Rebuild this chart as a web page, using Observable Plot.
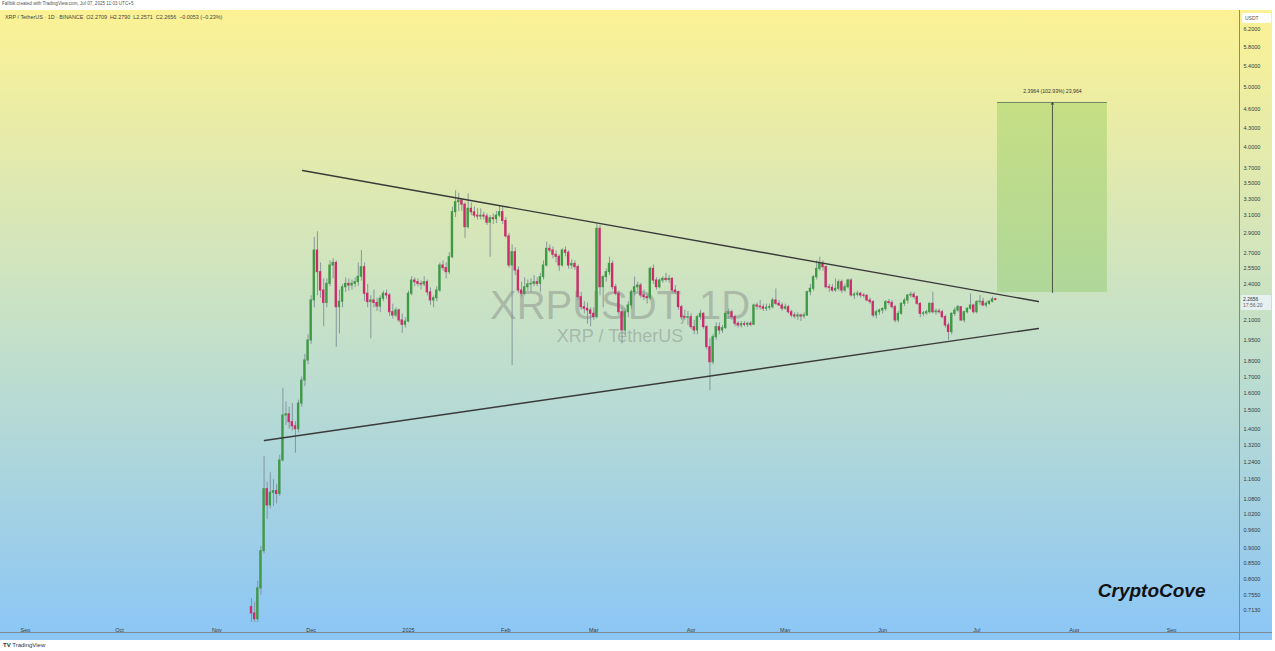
<!DOCTYPE html>
<html><head><meta charset="utf-8">
<script src="https://cdn.jsdelivr.net/npm/d3@7"></script>
<script src="https://cdn.jsdelivr.net/npm/@observablehq/plot@0.6"></script>
<style>
body{margin:0;width:1275px;height:651px;background:#fff;position:relative;overflow:hidden;font-family:"Liberation Sans",Arial,sans-serif}
#hdr{position:absolute;left:2px;top:1px;font-size:4.6px;color:#555;white-space:nowrap}
#panel{position:absolute;left:0;top:10px;width:1272px;height:630px;background:linear-gradient(to bottom,#fcf294 0%,#c6e1c8 50%,#8bc6f6 100%)}
#legend{position:absolute;left:5px;top:14px;font-size:5.4px;color:#444;white-space:nowrap}
#usdt{position:absolute;left:1242px;top:13px;width:26px;height:10px;background:#fff;border-radius:2px;font-size:5px;color:#555;line-height:10px;padding-left:3px}
#price{position:absolute;left:1241px;top:295px;width:28px;height:14px;background:rgba(235,242,248,0.85);font-size:5px;color:#333;line-height:6px;padding-left:2px;padding-top:1px}
#vline{position:absolute;left:1239px;top:10px;width:1px;height:630px;background:#7d8a96}
#hline{position:absolute;left:0;top:632px;width:1272px;height:1px;background:#7d8a96}
#foot{position:absolute;left:3px;top:642px;font-size:6px;color:#333;white-space:nowrap}
#chart{position:absolute;left:0;top:10px}
</style></head>
<body>
<div id="hdr">Fallbik created with TradingView.com, Jul 07, 2025 11:03 UTC+5</div>
<div id="panel"></div>
<div id="chart"></div>
<div id="legend">XRP / TetherUS · 1D · BINANCE &nbsp;O2.2709 &nbsp;H2.2790 &nbsp;L2.2571 &nbsp;C2.2656 &nbsp;−0.0053 (−0.23%)</div>
<div id="vline"></div>
<div id="hline"></div>
<div id="usdt">USDT</div>
<div id="price">2.2656<br><span style="color:#666">17:56:20</span></div>
<div id="foot"><b>TV</b> TradingView</div>
<script>
// Daily candles [open, high, low, close], starting 2024-11-12
const nov24 = [[0.722,0.745,0.665,0.705],[0.705,0.735,0.662,0.690],[0.690,0.795,0.670,0.774],[0.774,0.905,0.755,0.889],[0.889,1.265,0.880,1.120],[1.120,1.150,1.000,1.054],[1.054,1.190,1.040,1.105],[1.105,1.160,1.050,1.112],[1.112,1.140,1.060,1.100],[1.100,1.270,1.090,1.246],[1.246,1.630,1.240,1.473],[1.473,1.550,1.420,1.480],[1.480,1.520,1.400,1.437],[1.437,1.540,1.390,1.415],[1.415,1.440,1.280,1.400],[1.400,1.560,1.380,1.540],[1.540,1.700,1.520,1.678],[1.678,1.850,1.640,1.808],[1.808,1.990,1.780,1.948]];
const dec24 = [[1.948,2.300,1.920,2.261],[2.261,2.860,2.200,2.723],[2.723,2.920,2.300,2.512],[2.512,2.600,2.280,2.346],[2.346,2.450,2.050,2.240],[2.240,2.450,2.200,2.405],[2.405,2.620,2.380,2.575],[2.575,2.640,2.450,2.600],[2.600,2.620,1.900,2.205],[2.205,2.350,1.997,2.250],[2.250,2.400,2.200,2.375],[2.375,2.460,2.330,2.405],[2.405,2.450,2.340,2.390],[2.390,2.440,2.350,2.405],[2.405,2.460,2.370,2.420],[2.420,2.600,2.380,2.470],[2.470,2.723,2.430,2.559],[2.559,2.600,2.250,2.318],[2.318,2.400,2.200,2.247],[2.247,2.300,1.960,2.261],[2.261,2.350,2.200,2.240],[2.240,2.280,2.170,2.210],[2.210,2.300,2.160,2.275],[2.275,2.340,2.250,2.318],[2.318,2.350,2.270,2.303],[2.303,2.320,2.130,2.164],[2.164,2.230,2.110,2.138],[2.138,2.200,2.120,2.178],[2.178,2.190,2.080,2.099],[2.099,2.150,2.000,2.065],[2.065,2.120,2.040,2.090]];
const jan25 = [[2.090,2.340,2.080,2.318],[2.318,2.470,2.300,2.435],[2.435,2.460,2.380,2.420],[2.420,2.450,2.380,2.405],[2.405,2.430,2.350,2.400],[2.400,2.470,2.380,2.420],[2.420,2.440,2.300,2.330],[2.330,2.370,2.220,2.261],[2.261,2.300,2.200,2.280],[2.280,2.380,2.250,2.346],[2.346,2.600,2.330,2.575],[2.575,2.620,2.520,2.550],[2.550,2.600,2.450,2.512],[2.512,2.700,2.490,2.656],[2.656,3.200,2.640,3.141],[3.141,3.400,3.080,3.260],[3.260,3.370,3.150,3.280],[3.280,3.300,3.150,3.230],[3.230,3.250,2.850,2.970],[2.970,3.363,2.950,3.180],[3.180,3.250,3.100,3.140],[3.140,3.200,3.070,3.100],[3.100,3.180,3.050,3.090],[3.090,3.180,3.050,3.100],[3.100,3.140,3.050,3.090],[3.090,3.120,2.990,3.020],[3.020,3.100,2.656,3.070],[3.070,3.120,3.000,3.060],[3.060,3.150,3.010,3.100],[3.100,3.220,3.080,3.141],[3.141,3.200,3.000,3.040]];
const feb25 = [[3.040,3.080,2.850,2.870],[2.870,2.900,2.550,2.575],[2.575,2.780,1.774,2.706],[2.706,2.750,2.480,2.527],[2.527,2.560,2.320,2.346],[2.346,2.420,2.290,2.318],[2.318,2.460,2.300,2.375],[2.375,2.440,2.340,2.400],[2.400,2.450,2.330,2.405],[2.405,2.480,2.380,2.420],[2.420,2.460,2.380,2.405],[2.405,2.500,2.330,2.466],[2.466,2.620,2.440,2.575],[2.575,2.809,2.560,2.740],[2.740,2.780,2.700,2.723],[2.723,2.760,2.640,2.680],[2.680,2.720,2.600,2.660],[2.660,2.680,2.520,2.575],[2.575,2.740,2.560,2.723],[2.723,2.760,2.660,2.700],[2.700,2.720,2.540,2.575],[2.575,2.630,2.540,2.590],[2.590,2.620,2.530,2.560],[2.560,2.580,2.260,2.289],[2.289,2.330,2.180,2.205],[2.205,2.250,2.150,2.192],[2.192,2.240,2.070,2.178],[2.178,2.200,2.050,2.151]];
const mar25 = [[2.151,2.200,2.100,2.125],[2.125,3.000,2.110,2.952],[2.952,2.990,2.300,2.375],[2.375,2.480,2.200,2.466],[2.466,2.540,2.420,2.512],[2.512,2.656,2.480,2.591],[2.591,2.620,2.350,2.375],[2.375,2.400,2.300,2.318],[2.318,2.340,2.140,2.164],[2.164,2.200,1.924,2.022],[2.022,2.190,1.990,2.164],[2.164,2.250,2.120,2.219],[2.219,2.350,2.190,2.332],[2.332,2.466,2.300,2.375],[2.375,2.420,2.340,2.390],[2.390,2.410,2.280,2.303],[2.303,2.350,2.260,2.289],[2.289,2.310,2.230,2.280],[2.280,2.560,2.260,2.543],[2.543,2.580,2.400,2.435],[2.435,2.460,2.350,2.375],[2.375,2.450,2.360,2.435],[2.435,2.470,2.410,2.450],[2.450,2.500,2.420,2.440],[2.440,2.480,2.410,2.450],[2.450,2.460,2.320,2.346],[2.346,2.390,2.310,2.332],[2.332,2.340,2.180,2.205],[2.205,2.220,2.100,2.125],[2.125,2.180,2.100,2.120],[2.120,2.170,2.060,2.125]];
const apr25 = [[2.125,2.150,2.030,2.047],[2.047,2.100,1.990,2.022],[2.022,2.140,1.990,2.125],[2.125,2.180,2.100,2.151],[2.151,2.160,2.030,2.047],[2.047,2.060,1.880,1.900],[1.900,1.960,1.616,1.796],[1.796,1.990,1.780,1.972],[1.972,2.080,1.950,2.047],[2.047,2.080,1.990,2.022],[2.022,2.060,2.000,2.040],[2.040,2.170,2.030,2.151],[2.151,2.190,2.110,2.164],[2.164,2.180,2.100,2.125],[2.125,2.140,2.050,2.073],[2.073,2.090,2.040,2.060],[2.060,2.090,2.040,2.070],[2.070,2.090,2.050,2.065],[2.065,2.085,2.045,2.073],[2.073,2.090,2.050,2.065],[2.065,2.230,2.060,2.219],[2.219,2.240,2.180,2.210],[2.210,2.260,2.180,2.205],[2.205,2.230,2.170,2.192],[2.192,2.230,2.170,2.200],[2.200,2.230,2.180,2.205],[2.205,2.280,2.190,2.261],[2.261,2.360,2.220,2.233],[2.233,2.260,2.210,2.219],[2.219,2.240,2.170,2.192]];
const may25 = [[2.192,2.230,2.180,2.205],[2.205,2.220,2.150,2.164],[2.164,2.180,2.120,2.138],[2.138,2.160,2.110,2.130],[2.130,2.160,2.100,2.138],[2.138,2.150,2.090,2.130],[2.130,2.160,2.110,2.138],[2.138,2.340,2.130,2.332],[2.332,2.400,2.300,2.361],[2.361,2.480,2.340,2.466],[2.466,2.620,2.440,2.543],[2.543,2.656,2.520,2.591],[2.591,2.620,2.520,2.559],[2.559,2.570,2.360,2.375],[2.375,2.400,2.330,2.370],[2.370,2.400,2.330,2.346],[2.346,2.450,2.330,2.361],[2.361,2.440,2.340,2.420],[2.420,2.440,2.320,2.346],[2.346,2.400,2.330,2.375],[2.375,2.450,2.360,2.435],[2.435,2.450,2.290,2.303],[2.303,2.330,2.270,2.310],[2.310,2.340,2.290,2.318],[2.318,2.330,2.280,2.303],[2.303,2.320,2.280,2.300],[2.300,2.310,2.250,2.261],[2.261,2.280,2.230,2.247],[2.247,2.260,2.120,2.138],[2.138,2.180,2.110,2.164],[2.164,2.190,2.140,2.178]];
const jun25 = [[2.178,2.200,2.150,2.190],[2.190,2.260,2.170,2.247],[2.247,2.270,2.220,2.240],[2.240,2.260,2.190,2.205],[2.205,2.220,2.080,2.099],[2.099,2.170,2.080,2.151],[2.151,2.240,2.140,2.233],[2.233,2.280,2.210,2.260],[2.260,2.310,2.230,2.303],[2.303,2.332,2.280,2.310],[2.310,2.330,2.270,2.289],[2.289,2.300,2.220,2.233],[2.233,2.240,2.120,2.151],[2.151,2.170,2.130,2.155],[2.155,2.180,2.140,2.164],[2.164,2.240,2.150,2.233],[2.233,2.332,2.150,2.164],[2.164,2.190,2.140,2.170],[2.170,2.190,2.150,2.164],[2.164,2.180,2.110,2.125],[2.125,2.140,2.040,2.060],[2.060,2.080,1.948,2.010],[2.010,2.160,1.990,2.151],[2.151,2.200,2.130,2.178],[2.178,2.220,2.160,2.205],[2.205,2.210,2.090,2.099],[2.099,2.170,2.080,2.164],[2.164,2.200,2.150,2.192],[2.192,2.318,2.180,2.219],[2.219,2.230,2.150,2.164]];
const jul25 = [[2.164,2.260,2.150,2.247],[2.247,2.303,2.220,2.250],[2.250,2.280,2.210,2.219],[2.219,2.250,2.200,2.233],[2.233,2.260,2.220,2.250],[2.250,2.290,2.240,2.2709],[2.2709,2.2790,2.2571,2.2656]];
const firstDay = "2024-11-12";

// Trendlines (date, price)
const upperDates = ["2024-11-28T06:00Z", "2025-07-20T14:00Z"];
const upperValues = [3.667, 2.252];
const lowerDates = ["2024-11-16T03:00Z", "2025-07-20T14:00Z"];
const lowerValues = [1.342, 2.037];

// Projection box
const targetStart = "2025-07-07T14:00Z", targetEnd = "2025-08-11T14:00Z", targetArrow = "2025-07-25T02:00Z";
const targetLow = 2.3281, targetHigh = 4.7245;
const targetLabel = "2.3964 (102.93%) 23,964";

// Axes
const monthTicks = ["2024-09-01","2024-10-01","2024-11-01","2024-12-01","2025-01-01","2025-02-01","2025-03-01","2025-04-01","2025-05-01","2025-06-01","2025-07-01","2025-08-01","2025-09-01"];
const monthLabels = ["Sep","Oct","Nov","Dec","2025","Feb","Mar","Apr","May","Jun","Jul","Aug","Sep"];
const yTicks = [6.2,5.8,5.4,5.0,4.6,4.3,4.0,3.7,3.5,3.3,3.1,2.9,2.7,2.55,2.4,2.1,1.95,1.8,1.7,1.6,1.5,1.4,1.32,1.24,1.16,1.08,1.02,0.96,0.90,0.85,0.80,0.755,0.713];
const xDomain = ["2024-08-24T01:32Z", "2025-09-22T15:36Z"];
const yDomain = [0.6817, 6.654];

const start = new Date(firstDay + "T00:00Z");
const candles = [...nov24, ...dec24, ...jan25, ...feb25, ...mar25, ...apr25, ...may25, ...jun25, ...jul25]
  .map((r, i) => ({date: d3.utcDay.offset(start, i), o: r[0], h: r[1], l: r[2], c: r[3]}));
const upper = upperDates.map((d, i) => ({date: new Date(d), v: upperValues[i]}));
const lower = lowerDates.map((d, i) => ({date: new Date(d), v: lowerValues[i]}));
const tick = monthTicks.map(d => new Date(d + "T00:00Z"));
const target = [{x1: new Date(targetStart), x2: new Date(targetEnd), xa: new Date(targetArrow), lo: targetLow, hi: targetHigh, label: targetLabel}];
const green = "#3f9a46", red = "#cc2c6a";

const chart = Plot.plot({
  width: 1272, height: 630,
  marginLeft: 0, marginRight: 33, marginTop: 0, marginBottom: 18,
  style: {background: "transparent", fontFamily: "Liberation Sans, Arial, sans-serif", overflow: "visible"},
  x: {type: "utc", domain: xDomain.map(d => new Date(d))},
  y: {type: "log", domain: yDomain},
  marks: [
    Plot.rect(target, {x1: "x1", x2: "x2", y1: "lo", y2: "hi", fill: "rgba(110,190,60,0.30)"}),
    Plot.ruleY(target, {x1: "x1", x2: "x2", y: "hi", stroke: "#6f8a66", strokeWidth: 1}),
    Plot.arrow(target, {x1: "xa", x2: "xa", y1: "lo", y2: "hi", stroke: "#333", strokeWidth: 0.8, headLength: 4, bend: 0}),
    Plot.text(target, {x: "xa", y: "hi", text: "label", dy: -11, fontSize: 5.2, fill: "#333"}),
    Plot.text(["XRPUSDT, 1D"], {text: d => d, frameAnchor: "middle", dy: -10, fontSize: 40, fill: "#8a908a", fillOpacity: 0.5}),
    Plot.text(["XRP / TetherUS"], {text: d => d, frameAnchor: "middle", dy: 20, fontSize: 18, fill: "#8a908a", fillOpacity: 0.5}),
    Plot.ruleX(candles, {x: "date", y1: "l", y2: "h", stroke: "#7f8e96", strokeWidth: 0.9, clip: true}),
    Plot.rect(candles, {x1: d => d3.utcHour.offset(d.date, -9), x2: d => d3.utcHour.offset(d.date, 9), y1: "o", y2: "c",
      fill: d => d.c >= d.o ? green : red, insetTop: -0.5, insetBottom: -0.5, clip: true}),
    Plot.line(upper, {x: "date", y: "v", stroke: "#3a3a3a", strokeWidth: 1.4}),
    Plot.line(lower, {x: "date", y: "v", stroke: "#3a3a3a", strokeWidth: 1.4}),
    Plot.text(["CryptoCove"], {text: d => d, frameAnchor: "bottom-right", dx: -34, dy: -26, textAnchor: "end", fontSize: 19, fontWeight: "bold", fontStyle: "italic", fill: "#111"}),
    Plot.axisY({anchor: "right", ticks: yTicks, tickFormat: d3.format(".4f"), tickSize: 0, tickPadding: 4, fontSize: 5.5, fill: "#3a3a3a", label: null}),
    Plot.axisX({ticks: tick, tickFormat: d => monthLabels[tick.findIndex(t => +t === +d)], tickSize: 0, tickPadding: 6, fontSize: 5.5, fill: "#3a3a3a", label: null})
  ]
});
document.getElementById("chart").appendChild(chart);
</script>
</body></html>
